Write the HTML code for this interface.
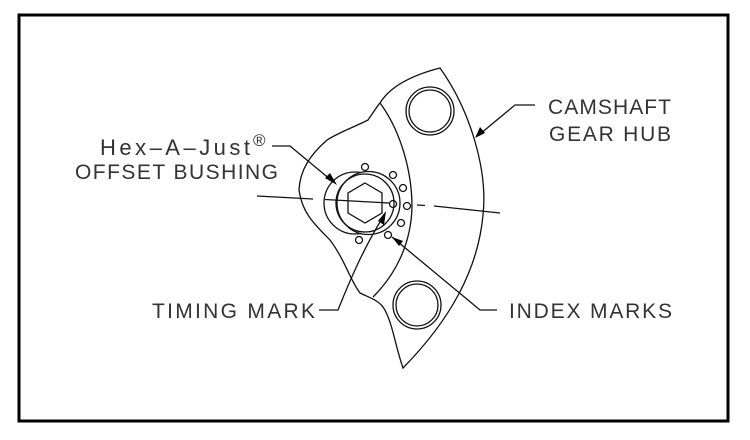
<!DOCTYPE html>
<html><head><meta charset="utf-8"><style>
html,body{margin:0;padding:0;background:#fff;}
svg{display:block;}
text{font-family:"Liberation Sans",sans-serif;font-size:21px;fill:#333;}
</style></head><body>
<svg width="750" height="440" viewBox="0 0 750 440" xmlns="http://www.w3.org/2000/svg">
<rect x="19" y="15" width="709" height="406" fill="none" stroke="#000" stroke-width="3"/>
<g fill="none" stroke="#111" stroke-width="1.3">
<path d="M440,68 C470,110 488,170 483,215 C478,270 450,320 403,368 C395,345 392,320 383,307 C378,300 368,297 360,293 C350,280 345,260 330,240 C315,225 302,213 299,190 C300,170 310,155 327,140 C340,132 352,128 368,120 C375,110 378,105 380,103 C388,90 405,77 440,68 Z"/>
<path d="M380,103 C400,130 412,170 412,207 C411,245 395,275 373,297"/>
<circle cx="430" cy="111" r="24"/><circle cx="430" cy="111" r="21"/>
<circle cx="417" cy="305" r="24"/><circle cx="417" cy="305" r="21"/>
<circle cx="355" cy="203" r="31" fill="#fff"/>
<circle cx="368.5" cy="203" r="31.5" fill="#fff"/>
<circle cx="365" cy="203" r="29"/>
<polygon points="365,183 382,193 382,213 365,223 348,213 348,193"/>
<circle cx="365" cy="167" r="3.5"/><circle cx="393" cy="175" r="3.5"/>
<circle cx="403" cy="188" r="3.5"/><circle cx="393" cy="204" r="3.5"/>
<circle cx="407" cy="206" r="3.5"/><circle cx="401" cy="223" r="3.5"/>
<circle cx="388" cy="235" r="3.5"/><circle cx="359" cy="240" r="3.5"/>
<line x1="257" y1="196" x2="313" y2="199"/>
<line x1="325" y1="199.5" x2="389" y2="203"/>
<line x1="417" y1="205" x2="425" y2="205.5"/>
<line x1="434" y1="206" x2="500" y2="213"/>
<polyline points="272,146 290,146 331,180"/>
<polyline points="535,105 515,105 480,134"/>
<path d="M319,310 L338,310 C350,280 365,245 385,214"/>
<polyline points="392,237 480,310 497,310"/>
</g>
<g fill="#000">
<polygon points="337,185 325,178 330,173"/>
<polygon points="475,138 480,127 485,133"/>
<polygon points="386,211 384,225 378,221"/>
<polygon points="392,237 403,241 399,246"/>
</g>
<text x="100" y="155" style="font-size:22px" textLength="150" lengthAdjust="spacing">Hex–A–Just</text>
<text x="253" y="146" style="font-size:17px">®</text>
<text x="75" y="179" textLength="203" lengthAdjust="spacing">OFFSET BUSHING</text>
<text x="548" y="114" textLength="123" lengthAdjust="spacing">CAMSHAFT</text>
<text x="549" y="141" textLength="122" lengthAdjust="spacing">GEAR HUB</text>
<text x="152" y="318" textLength="163" lengthAdjust="spacing">TIMING MARK</text>
<text x="509" y="318" textLength="163" lengthAdjust="spacing">INDEX MARKS</text>
</svg>
</body></html>
